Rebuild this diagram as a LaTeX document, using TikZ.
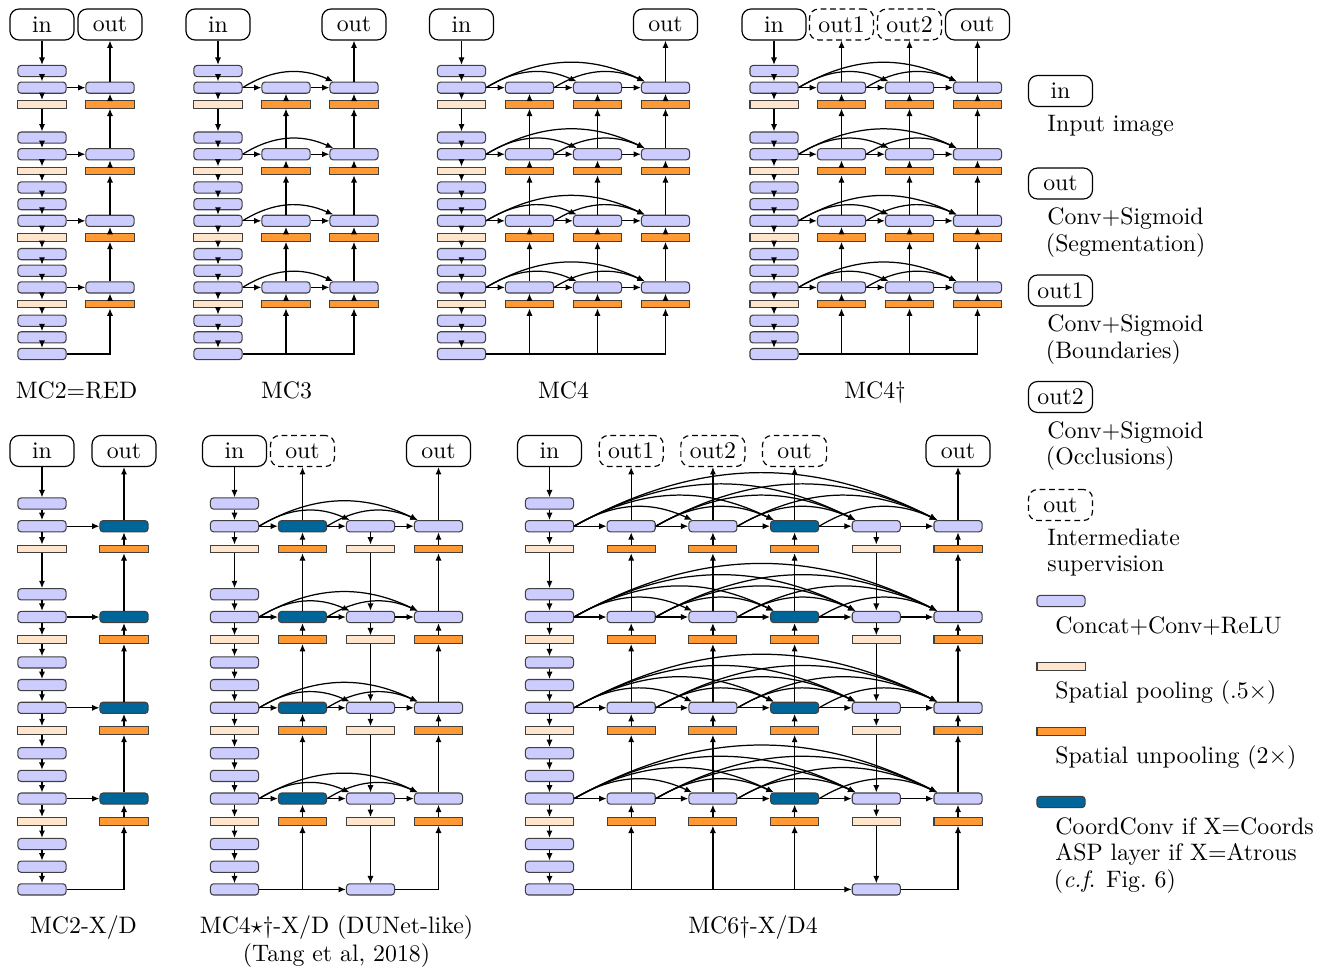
\documentclass[tikz,border=0pt]{standalone}
\usetikzlibrary{arrows.meta}
\definecolor{blkc}{RGB}{204,204,255}
\definecolor{poolc}{RGB}{255,229,204}
\definecolor{unpoolc}{RGB}{255,153,51}
\definecolor{ccc}{RGB}{0,102,153}
\tikzset{
 blk/.style={draw=black!75, fill=blkc, rounded corners=1.3pt, minimum width=20.2pt, minimum height=4.7pt, inner sep=0pt, line width=0.45pt},
 ccblk/.style={blk, fill=ccc},
 poolbar/.style={draw=black!75, fill=poolc, minimum width=20.2pt, minimum height=3.2pt, inner sep=0pt, line width=0.45pt},
 unpoolbar/.style={poolbar, fill=unpoolc},
 io/.style={draw, rounded corners=3.8pt, minimum width=26.9pt, minimum height=13pt, inner sep=0pt, line width=0.5pt},
 iod/.style={io, dash pattern=on 2.4pt off 1.6pt},
 ar/.style={-{Latex[length=3.1pt,width=2.6pt]}, line width=0.52pt},
 captxt/.style={anchor=base, inner sep=0pt},
 lgt/.style={anchor=base west, inner sep=0pt},
}
\newcommand{\EncCol}[4]{%
  \foreach \k in {0,1,4,5,7,8,9,11,12,13,15,16,17} {\node[blk] (#1c0r\k) at (#2,#3+\k*#4) {};}
  \foreach \k in {2,6,10,14} {\node[poolbar] (#1c0r\k) at (#2,#3+\k*#4) {};}
  \foreach \ua/\ub in {0/1,1/2,2/4,4/5,5/6,6/7,7/8,8/9,9/10,10/11,11/12,12/13,13/14,14/15,15/16,16/17} {\draw[ar] (#1c0r\ua.south) -- (#1c0r\ub.north);}
}
\newcommand{\UpCol}[6]{%
  \foreach \k in {1,5,9,13} {\node[#6] (#1c#2r\k) at (#3,#4+\k*#5) {};}
  \foreach \k in {2,6,10,14} {\node[unpoolbar] (#1c#2r\k) at (#3,#4+\k*#5) {};}
  \foreach \ua/\ub in {2/1,5/2,6/5,9/6,10/9,13/10,14/13} {\draw[ar] (#1c#2r\ua.north) -- (#1c#2r\ub.south);}
}
\newcommand{\DownCol}[5]{%
  \foreach \k in {1,5,9,13,17} {\node[blk] (#1c#2r\k) at (#3,#4+\k*#5) {};}
  \foreach \k in {2,6,10,14} {\node[poolbar] (#1c#2r\k) at (#3,#4+\k*#5) {};}
  \foreach \ua/\ub in {1/2,2/5,5/6,6/9,9/10,10/13,13/14,14/17} {\draw[ar] (#1c#2r\ua.south) -- (#1c#2r\ub.north);}
}
\newcommand{\RowLinks}[2]{%
  \foreach \k in {1,5,9,13} {
    \foreach \ii in {1,...,#2} {
      \pgfmathtruncatemacro{\pp}{\ii-1}
      \draw[ar] (#1c\pp r\k.east) -- (#1c\ii r\k.west);
    }
    \foreach \ii in {0,...,#2} {
      \foreach \jj in {0,...,#2} {
        \pgfmathtruncatemacro{\dd}{\jj-\ii}
        \ifnum\dd>1
          \draw[ar] (#1c\ii r\k.east) to[bend left=28] ([xshift=1.6pt]#1c\jj r\k.north west);
        \fi
      }
    }
  }
}
\begin{document}
\begin{tikzpicture}[x=0.42pt, y=-0.42pt]
\useasboundingbox (0,0) rectangle (1335,967);
% ---------- MC2=RED ----------
\EncCol{A}{42}{71}{16.647}
\UpCol{A}{1}{110}{71}{16.647}{blk}
\RowLinks{A}{1}
\node[io] (Ain) at (42,24.5) {in};
\node[io] (Aout) at (110,24.5) {out};
\draw[ar] (Ain.south) -- (Ac0r0.north);
\draw[ar] (Ac1r1.north) -- (Aout.south);
\draw[ar] (Ac0r17.east) -| (Ac1r14.south);
\node[captxt] (Acap) at (76.5,398) {MC2=RED};
% ---------- MC3 ----------
\EncCol{B}{218}{71}{16.647}
\UpCol{B}{1}{286}{71}{16.647}{blk}
\UpCol{B}{2}{354}{71}{16.647}{blk}
\RowLinks{B}{2}
\node[io] (Bin) at (218,24.5) {in};
\node[io] (Bout) at (354,24.5) {out};
\draw[ar] (Bin.south) -- (Bc0r0.north);
\draw[ar] (Bc2r1.north) -- (Bout.south);
\draw[ar] (Bc0r17.east) -| (Bc2r14.south);
\draw[ar] (Bc1r14.south |- Bc0r17.east) -- (Bc1r14.south);
\node[captxt] (Bcap) at (286.5,398) {MC3};
% ---------- MC4 ----------
\EncCol{C}{461.5}{71}{16.647}
\UpCol{C}{1}{529.5}{71}{16.647}{blk}
\UpCol{C}{2}{597.5}{71}{16.647}{blk}
\UpCol{C}{3}{665.5}{71}{16.647}{blk}
\RowLinks{C}{3}
\node[io] (Cin) at (461.5,24.5) {in};
\node[io] (Cout) at (665.5,24.5) {out};
\draw[ar] (Cin.south) -- (Cc0r0.north);
\draw[ar] (Cc3r1.north) -- (Cout.south);
\draw[ar] (Cc0r17.east) -| (Cc3r14.south);
\draw[ar] (Cc1r14.south |- Cc0r17.east) -- (Cc1r14.south);
\draw[ar] (Cc2r14.south |- Cc0r17.east) -- (Cc2r14.south);
\node[captxt] (Ccap) at (563.5,398) {MC4};
% ---------- MC4 dag ----------
\EncCol{D}{774}{71}{16.647}
\UpCol{D}{1}{841.5}{71}{16.647}{blk}
\UpCol{D}{2}{909.5}{71}{16.647}{blk}
\UpCol{D}{3}{977.5}{71}{16.647}{blk}
\RowLinks{D}{3}
\node[io] (Din) at (774,24.5) {in};
\node[iod] (Dout1) at (841.5,24.5) {out1};
\node[iod] (Dout2) at (909.5,24.5) {out2};
\node[io] (Dout) at (977.5,24.5) {out};
\draw[ar] (Din.south) -- (Dc0r0.north);
\draw[ar] (Dc1r1.north) -- (Dout1.south);
\draw[ar] (Dc2r1.north) -- (Dout2.south);
\draw[ar] (Dc3r1.north) -- (Dout.south);
\draw[ar] (Dc0r17.east) -| (Dc3r14.south);
\draw[ar] (Dc1r14.south |- Dc0r17.east) -- (Dc1r14.south);
\draw[ar] (Dc2r14.south |- Dc0r17.east) -- (Dc2r14.south);
\node[captxt] (Dcap) at (875,398) {MC4\dag};
% ---------- MC2-X/D ----------
\EncCol{E}{42}{503.5}{22.7}
\UpCol{E}{1}{124}{503.5}{22.7}{ccblk}
\RowLinks{E}{1}
\node[io] (Ein) at (42,451) {in};
\node[io] (Eout) at (124,451) {out};
\draw[ar] (Ein.south) -- (Ec0r0.north);
\draw[ar] (Ec1r1.north) -- (Eout.south);
\draw[ar] (Ec0r17.east) -| (Ec1r14.south);
\node[captxt] (Ecap) at (83.5,933) {MC2-X/D};
% ---------- MC4 star dag ----------
\EncCol{F}{234.5}{503.5}{22.7}
\UpCol{F}{1}{302.5}{503.5}{22.7}{ccblk}
\DownCol{F}{2}{370.5}{503.5}{22.7}
\UpCol{F}{3}{438.5}{503.5}{22.7}{blk}
\RowLinks{F}{3}
\node[io] (Fin) at (234.5,451) {in};
\node[iod] (Fouti) at (302.5,451) {out};
\node[io] (Fout) at (438.5,451) {out};
\draw[ar] (Fin.south) -- (Fc0r0.north);
\draw[ar] (Fc1r1.north) -- (Fouti.south);
\draw[ar] (Fc3r1.north) -- (Fout.south);
\draw[ar] (Fc0r17.east) -- (Fc2r17.west);
\draw[ar] (Fc1r14.south |- Fc0r17.east) -- (Fc1r14.south);
\draw[ar] (Fc2r17.east) -| (Fc3r14.south);
\node[captxt] (Fcap) at (336.5,933) {MC4$\star$\dag-X/D (DUNet-like)};
\node[captxt] (Fcapb) at (336.5,961) {(Tang et al, 2018)};
% ---------- MC6 dag ----------
\EncCol{G}{549.5}{503.5}{22.7}
\UpCol{G}{1}{631.2}{503.5}{22.7}{blk}
\UpCol{G}{2}{712.9}{503.5}{22.7}{blk}
\UpCol{G}{3}{794.6}{503.5}{22.7}{ccblk}
\DownCol{G}{4}{876.3}{503.5}{22.7}
\UpCol{G}{5}{958}{503.5}{22.7}{blk}
\RowLinks{G}{5}
\node[io] (Gin) at (549.5,451) {in};
\node[iod] (Gout1) at (631.2,451) {out1};
\node[iod] (Gout2) at (712.9,451) {out2};
\node[iod] (Gouti) at (794.6,451) {out};
\node[io] (Gout) at (958,451) {out};
\draw[ar] (Gin.south) -- (Gc0r0.north);
\draw[ar] (Gc1r1.north) -- (Gout1.south);
\draw[ar] (Gc2r1.north) -- (Gout2.south);
\draw[ar] (Gc3r1.north) -- (Gouti.south);
\draw[ar] (Gc5r1.north) -- (Gout.south);
\draw[ar] (Gc0r17.east) -- (Gc4r17.west);
\draw[ar] (Gc1r14.south |- Gc0r17.east) -- (Gc1r14.south);
\draw[ar] (Gc2r14.south |- Gc0r17.east) -- (Gc2r14.south);
\draw[ar] (Gc3r14.south |- Gc0r17.east) -- (Gc3r14.south);
\draw[ar] (Gc4r17.east) -| (Gc5r14.south);
\node[captxt] (Gcap) at (753,933) {MC6\dag-X/D4};
% ---------- legend ----------
\node[io] (Lin) at (1060.5,91) {in};
\node[lgt] (Lt1) at (1047,131) {Input image};
\node[io] (Lout) at (1060.5,183.5) {out};
\node[lgt] (Lt2) at (1047,224.5) {Conv+Sigmoid};
\node[lgt] (Lt3) at (1045.5,251) {(Segmentation)};
\node[io] (Lo1) at (1060.5,290.5) {out1};
\node[lgt] (Lt4) at (1047,331) {Conv+Sigmoid};
\node[lgt] (Lt5) at (1045.5,358) {(Boundaries)};
\node[io] (Lo2) at (1060.5,397) {out2};
\node[lgt] (Lt6) at (1047,438) {Conv+Sigmoid};
\node[lgt] (Lt7) at (1045.5,464.5) {(Occlusions)};
\node[iod] (Lod) at (1060.5,505) {out};
\node[lgt] (Lt8) at (1047,545.5) {Intermediate};
\node[lgt] (Lt9) at (1047,571) {supervision};
\node[blk] (Lb1) at (1061,601) {};
\node[lgt] (Lt10) at (1055,633) {Concat+Conv+ReLU};
\node[poolbar] (Lb2) at (1061,666.5) {};
\node[lgt] (Lt11) at (1055,698) {Spatial pooling (.5$\times$)};
\node[unpoolbar] (Lb3) at (1061,731.5) {};
\node[lgt] (Lt12) at (1055,763) {Spatial unpooling (2$\times$)};
\node[ccblk] (Lb4) at (1061,802) {};
\node[lgt] (Lt13) at (1055,834) {CoordConv if X=Coords};
\node[lgt] (Lt14) at (1055,860.5) {ASP layer if X=Atrous};
\node[lgt] (Lt15) at (1053.5,887) {(\textit{c.f}. Fig.~6)};
\end{tikzpicture}
\end{document}
